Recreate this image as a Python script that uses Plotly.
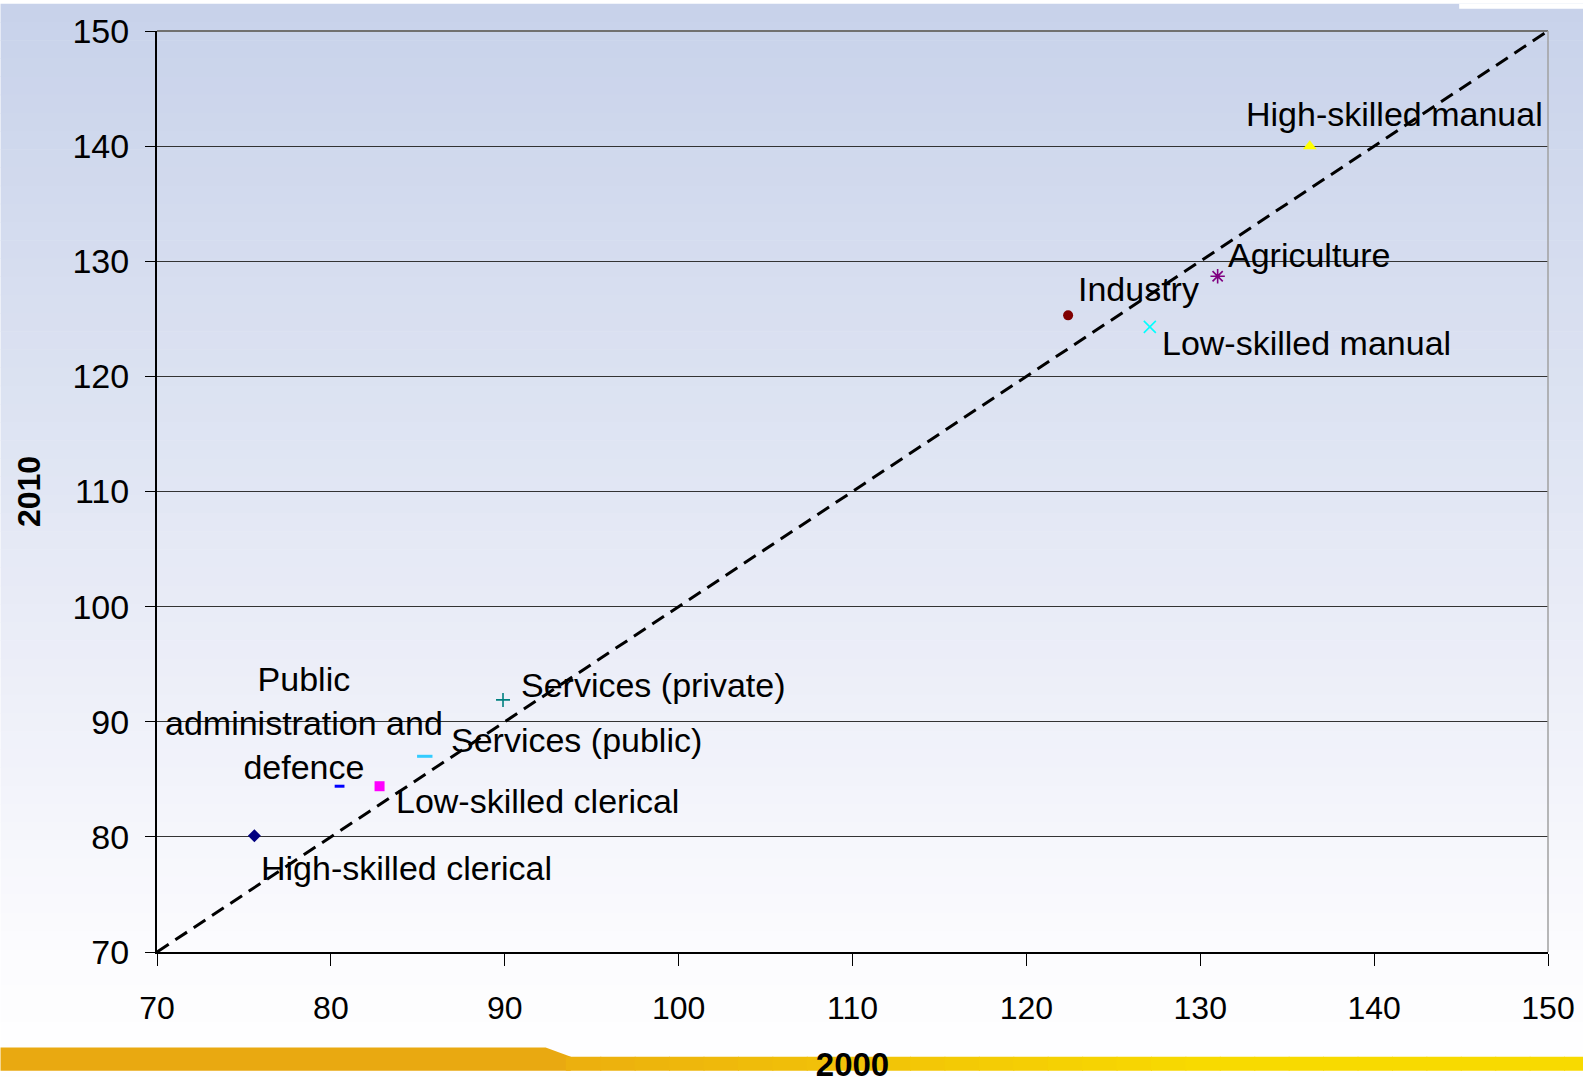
import plotly.graph_objects as go

# ---- data ----
categories = ["High-skilled clerical", "Low-skilled clerical", "Public administration and defence",
              "Services (public)", "Services (private)", "Industry", "Low-skilled manual",
              "Agriculture", "High-skilled manual"]
x2000 = [75.6, 82.8, 80.5, 85.4, 89.9, 122.4, 127.1, 131.0, 136.3]
y2010 = [80.1, 84.4, 84.4, 87.0, 91.9, 125.3, 124.3, 128.7, 140.0]
label_text = ["High-skilled clerical", "Low-skilled clerical", "Public<br>administration and<br>defence",
              "Services (public)", "Services (private)", "Industry", "Low-skilled manual",
              "Agriculture", "High-skilled manual"]
diag = [70, 150]
x_ticks = [70, 80, 90, 100, 110, 120, 130, 140, 150]
y_ticks = [70, 80, 90, 100, 110, 120, 130, 140, 150]

# ---- styles ----
symbols = ["diamond", "square", "line-ew", "line-ew", "cross-thin", "circle", "x-thin", "asterisk", "triangle-up"]
colors = ["#000080", "#FF00FF", "#0000FF", "#33CCFF", "#008080", "#800000", "#00FFFF", "#800080", "#FFFF00"]
sizes = [10, 10, 7, 11, 10, 10, 12, 12, 12]
shifts = [(151, -32), (156, -15), (-35, 63), (150, 16), (149, 15), (70, 26), (155, -16), (91, 21), (84, 32)]

# design in reference pixels (1583x1084); the captured area is slightly larger, so scale up uniformly
RW, RH = 1583, 1084
SX = SY = 1599 / 1583
W, H = round(RW * SX), round(RH * SY)
L, R, T, B = 155 * SX, (RW - 1533) * SX, 27 * SY, (RH - 942) * SY
PW, PH = W - L - R, H - T - B


def rx(xref_px):
    return (xref_px * SX - L) / PW


def ry(yref_px):
    return (H - B - yref_px * SY) / PH


def lerp(c0, c1, t):
    return tuple(round(c0[m] + t * (c1[m] - c0[m])) for m in range(3))


fig = go.Figure()

fig.add_trace(go.Scatter(x=diag, y=diag, mode="lines",
                         line=dict(color="black", width=3, dash="14px,8px"),
                         hoverinfo="skip", showlegend=False))

for i, name in enumerate(categories):
    sym = symbols[i]
    is_line = sym in ("line-ew", "cross-thin", "x-thin", "asterisk")
    marker = dict(symbol=sym, size=sizes[i], color=colors[i])
    if is_line:
        marker["line"] = dict(color=colors[i], width=3 if sym == "line-ew" else 1.6)
    else:
        marker["line"] = dict(width=0)
    fig.add_trace(go.Scatter(x=[x2000[i]], y=[y2010[i]], mode="markers", name=name,
                             marker=marker, showlegend=False))
    fig.add_annotation(x=x2000[i], y=y2010[i], text=label_text[i], showarrow=False,
                       xshift=shifts[i][0] * SX, yshift=shifts[i][1] * SY,
                       font=dict(size=34, color="black", family="Liberation Sans, Arial"),
                       xanchor="center", yanchor="middle", align="center")

shapes = []
# background gradient (light blue at top fading to white)
stops = [(0, (200, 210, 234)), (400, (221, 227, 242)), (700, (238, 240, 249)),
         (950, (252, 252, 254)), (RH, (255, 255, 255))]
n = 60
for k in range(n):
    y0 = RH * k / n
    y1 = RH * (k + 1) / n
    yc = (y0 + y1) / 2
    c = stops[-1][1]
    for j in range(len(stops) - 1):
        if stops[j][0] <= yc <= stops[j + 1][0]:
            t = (yc - stops[j][0]) / (stops[j + 1][0] - stops[j][0])
            c = lerp(stops[j][1], stops[j + 1][1], t)
            break
    shapes.append(dict(type="rect", xref="paper", yref="paper", x0=rx(0), x1=rx(RW),
                       y0=ry(min(y1 + 0.5, RH)), y1=ry(y0), fillcolor="rgb(%d,%d,%d)" % c,
                       line=dict(width=0), layer="below"))
# white corner at the top right
shapes.append(dict(type="rect", xref="paper", yref="paper", x0=rx(1445), x1=rx(RW),
                   y0=ry(5), y1=ry(0), fillcolor="white", line=dict(width=0), layer="below"))
# bottom decorative bar: thick orange left part with a step
shapes.append(dict(type="path", xref="paper", yref="paper",
                   path="M %f,%f L %f,%f L %f,%f L %f,%f L %f,%f Z" % (
                       rx(0), ry(1037), rx(540), ry(1037), rx(565), ry(1046),
                       rx(565), ry(1060), rx(0), ry(1060)),
                   fillcolor="#E9A911", line=dict(width=0), layer="below"))
# thinner right part fading orange -> yellow
seg = 30
bar_c0, bar_c1 = (236, 176, 14), (248, 218, 0)
for k in range(seg):
    xa = 560 + (RW - 560) * k / seg
    xb = min(560 + (RW - 560) * (k + 1) / seg + 1, RW)
    c = lerp(bar_c0, bar_c1, min(1.0, k / (seg * 0.6)))
    shapes.append(dict(type="rect", xref="paper", yref="paper", x0=rx(xa), x1=rx(xb),
                       y0=ry(1060), y1=ry(1046), fillcolor="rgb(%d,%d,%d)" % c,
                       line=dict(width=0), layer="below"))
# plot frame: grey top and right edges
shapes.append(dict(type="line", xref="paper", yref="paper", x0=0, x1=1, y0=1, y1=1,
                   line=dict(color="#707070", width=2)))
shapes.append(dict(type="line", xref="paper", yref="paper", x0=1, x1=1, y0=0, y1=1,
                   line=dict(color="#A0A0A0", width=1.5)))

fig.update_layout(
    width=W, height=H,
    margin=dict(l=L, r=R, t=T, b=B),
    paper_bgcolor="white",
    plot_bgcolor="rgba(0,0,0,0)",
    shapes=shapes,
    showlegend=False,
    xaxis=dict(range=[70, 150], tickvals=x_ticks, ticktext=[str(v) for v in x_ticks],
               showgrid=False, zeroline=False, showline=True, linecolor="black", linewidth=2,
               ticks="outside", ticklen=12, tickcolor="black", tickwidth=1,
               ticklabelstandoff=15, ticklabeloverflow="allow",
               tickfont=dict(size=32, family="Liberation Sans, Arial", color="black"),
               title=dict(text="<b>2000</b>", standoff=27,
                          font=dict(size=33, family="Liberation Sans, Arial", color="black"))),
    yaxis=dict(range=[70, 150], tickvals=y_ticks, ticktext=[str(v) for v in y_ticks],
               showgrid=True, gridcolor="#333333", gridwidth=1, zeroline=False,
               showline=True, linecolor="black", linewidth=2,
               ticks="outside", ticklen=10, tickcolor="black", tickwidth=1,
               ticklabelstandoff=9, ticklabeloverflow="allow",
               tickfont=dict(size=34, family="Liberation Sans, Arial", color="black"),
               title=dict(text="<b>2010</b>", standoff=22,
                          font=dict(size=32, family="Liberation Sans, Arial", color="black"))),
)

fig.write_html("out.html", config={"displayModeBar": False},
               post_script="document.body.style.margin='0';"
                           "document.documentElement.style.overflow='hidden';"
                           "document.body.style.overflow='hidden';")
